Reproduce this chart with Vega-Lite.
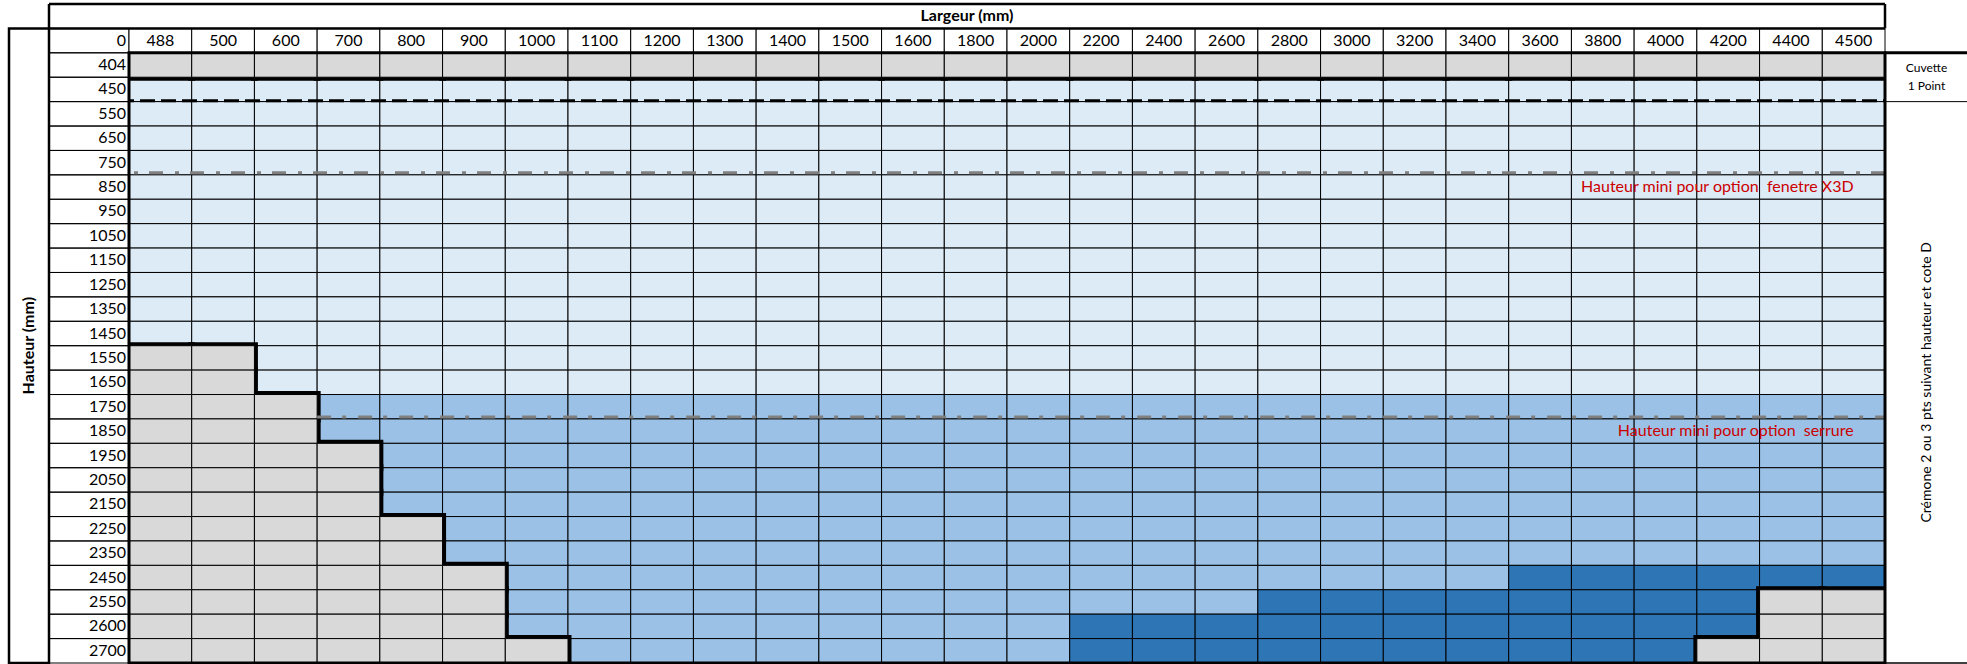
{
  "$schema": "https://vega.github.io/schema/vega-lite/v6.json",
  "padding": {"left": 7, "top": 2, "right": 0, "bottom": 0},
  "spacing": 0,
  "bounds": "flush",
  "config": {"view": {"stroke": null}, "font": "Lato"},
  "datasets": {
    "cellules": [
      {"h":404,"l":488,"z":"g"},{"h":404,"l":500,"z":"g"},{"h":404,"l":600,"z":"g"},{"h":404,"l":700,"z":"g"},{"h":404,"l":800,"z":"g"},{"h":404,"l":900,"z":"g"},{"h":404,"l":1000,"z":"g"},{"h":404,"l":1100,"z":"g"},{"h":404,"l":1200,"z":"g"},{"h":404,"l":1300,"z":"g"},{"h":404,"l":1400,"z":"g"},{"h":404,"l":1500,"z":"g"},{"h":404,"l":1600,"z":"g"},{"h":404,"l":1800,"z":"g"},{"h":404,"l":2000,"z":"g"},{"h":404,"l":2200,"z":"g"},{"h":404,"l":2400,"z":"g"},{"h":404,"l":2600,"z":"g"},{"h":404,"l":2800,"z":"g"},{"h":404,"l":3000,"z":"g"},{"h":404,"l":3200,"z":"g"},{"h":404,"l":3400,"z":"g"},{"h":404,"l":3600,"z":"g"},{"h":404,"l":3800,"z":"g"},{"h":404,"l":4000,"z":"g"},{"h":404,"l":4200,"z":"g"},{"h":404,"l":4400,"z":"g"},{"h":404,"l":4500,"z":"g"},
      {"h":450,"l":488,"z":"a"},{"h":450,"l":500,"z":"a"},{"h":450,"l":600,"z":"a"},{"h":450,"l":700,"z":"a"},{"h":450,"l":800,"z":"a"},{"h":450,"l":900,"z":"a"},{"h":450,"l":1000,"z":"a"},{"h":450,"l":1100,"z":"a"},{"h":450,"l":1200,"z":"a"},{"h":450,"l":1300,"z":"a"},{"h":450,"l":1400,"z":"a"},{"h":450,"l":1500,"z":"a"},{"h":450,"l":1600,"z":"a"},{"h":450,"l":1800,"z":"a"},{"h":450,"l":2000,"z":"a"},{"h":450,"l":2200,"z":"a"},{"h":450,"l":2400,"z":"a"},{"h":450,"l":2600,"z":"a"},{"h":450,"l":2800,"z":"a"},{"h":450,"l":3000,"z":"a"},{"h":450,"l":3200,"z":"a"},{"h":450,"l":3400,"z":"a"},{"h":450,"l":3600,"z":"a"},{"h":450,"l":3800,"z":"a"},{"h":450,"l":4000,"z":"a"},{"h":450,"l":4200,"z":"a"},{"h":450,"l":4400,"z":"a"},{"h":450,"l":4500,"z":"a"},
      {"h":550,"l":488,"z":"a"},{"h":550,"l":500,"z":"a"},{"h":550,"l":600,"z":"a"},{"h":550,"l":700,"z":"a"},{"h":550,"l":800,"z":"a"},{"h":550,"l":900,"z":"a"},{"h":550,"l":1000,"z":"a"},{"h":550,"l":1100,"z":"a"},{"h":550,"l":1200,"z":"a"},{"h":550,"l":1300,"z":"a"},{"h":550,"l":1400,"z":"a"},{"h":550,"l":1500,"z":"a"},{"h":550,"l":1600,"z":"a"},{"h":550,"l":1800,"z":"a"},{"h":550,"l":2000,"z":"a"},{"h":550,"l":2200,"z":"a"},{"h":550,"l":2400,"z":"a"},{"h":550,"l":2600,"z":"a"},{"h":550,"l":2800,"z":"a"},{"h":550,"l":3000,"z":"a"},{"h":550,"l":3200,"z":"a"},{"h":550,"l":3400,"z":"a"},{"h":550,"l":3600,"z":"a"},{"h":550,"l":3800,"z":"a"},{"h":550,"l":4000,"z":"a"},{"h":550,"l":4200,"z":"a"},{"h":550,"l":4400,"z":"a"},{"h":550,"l":4500,"z":"a"},
      {"h":650,"l":488,"z":"a"},{"h":650,"l":500,"z":"a"},{"h":650,"l":600,"z":"a"},{"h":650,"l":700,"z":"a"},{"h":650,"l":800,"z":"a"},{"h":650,"l":900,"z":"a"},{"h":650,"l":1000,"z":"a"},{"h":650,"l":1100,"z":"a"},{"h":650,"l":1200,"z":"a"},{"h":650,"l":1300,"z":"a"},{"h":650,"l":1400,"z":"a"},{"h":650,"l":1500,"z":"a"},{"h":650,"l":1600,"z":"a"},{"h":650,"l":1800,"z":"a"},{"h":650,"l":2000,"z":"a"},{"h":650,"l":2200,"z":"a"},{"h":650,"l":2400,"z":"a"},{"h":650,"l":2600,"z":"a"},{"h":650,"l":2800,"z":"a"},{"h":650,"l":3000,"z":"a"},{"h":650,"l":3200,"z":"a"},{"h":650,"l":3400,"z":"a"},{"h":650,"l":3600,"z":"a"},{"h":650,"l":3800,"z":"a"},{"h":650,"l":4000,"z":"a"},{"h":650,"l":4200,"z":"a"},{"h":650,"l":4400,"z":"a"},{"h":650,"l":4500,"z":"a"},
      {"h":750,"l":488,"z":"a"},{"h":750,"l":500,"z":"a"},{"h":750,"l":600,"z":"a"},{"h":750,"l":700,"z":"a"},{"h":750,"l":800,"z":"a"},{"h":750,"l":900,"z":"a"},{"h":750,"l":1000,"z":"a"},{"h":750,"l":1100,"z":"a"},{"h":750,"l":1200,"z":"a"},{"h":750,"l":1300,"z":"a"},{"h":750,"l":1400,"z":"a"},{"h":750,"l":1500,"z":"a"},{"h":750,"l":1600,"z":"a"},{"h":750,"l":1800,"z":"a"},{"h":750,"l":2000,"z":"a"},{"h":750,"l":2200,"z":"a"},{"h":750,"l":2400,"z":"a"},{"h":750,"l":2600,"z":"a"},{"h":750,"l":2800,"z":"a"},{"h":750,"l":3000,"z":"a"},{"h":750,"l":3200,"z":"a"},{"h":750,"l":3400,"z":"a"},{"h":750,"l":3600,"z":"a"},{"h":750,"l":3800,"z":"a"},{"h":750,"l":4000,"z":"a"},{"h":750,"l":4200,"z":"a"},{"h":750,"l":4400,"z":"a"},{"h":750,"l":4500,"z":"a"},
      {"h":850,"l":488,"z":"a"},{"h":850,"l":500,"z":"a"},{"h":850,"l":600,"z":"a"},{"h":850,"l":700,"z":"a"},{"h":850,"l":800,"z":"a"},{"h":850,"l":900,"z":"a"},{"h":850,"l":1000,"z":"a"},{"h":850,"l":1100,"z":"a"},{"h":850,"l":1200,"z":"a"},{"h":850,"l":1300,"z":"a"},{"h":850,"l":1400,"z":"a"},{"h":850,"l":1500,"z":"a"},{"h":850,"l":1600,"z":"a"},{"h":850,"l":1800,"z":"a"},{"h":850,"l":2000,"z":"a"},{"h":850,"l":2200,"z":"a"},{"h":850,"l":2400,"z":"a"},{"h":850,"l":2600,"z":"a"},{"h":850,"l":2800,"z":"a"},{"h":850,"l":3000,"z":"a"},{"h":850,"l":3200,"z":"a"},{"h":850,"l":3400,"z":"a"},{"h":850,"l":3600,"z":"a"},{"h":850,"l":3800,"z":"a"},{"h":850,"l":4000,"z":"a"},{"h":850,"l":4200,"z":"a"},{"h":850,"l":4400,"z":"a"},{"h":850,"l":4500,"z":"a"},
      {"h":950,"l":488,"z":"a"},{"h":950,"l":500,"z":"a"},{"h":950,"l":600,"z":"a"},{"h":950,"l":700,"z":"a"},{"h":950,"l":800,"z":"a"},{"h":950,"l":900,"z":"a"},{"h":950,"l":1000,"z":"a"},{"h":950,"l":1100,"z":"a"},{"h":950,"l":1200,"z":"a"},{"h":950,"l":1300,"z":"a"},{"h":950,"l":1400,"z":"a"},{"h":950,"l":1500,"z":"a"},{"h":950,"l":1600,"z":"a"},{"h":950,"l":1800,"z":"a"},{"h":950,"l":2000,"z":"a"},{"h":950,"l":2200,"z":"a"},{"h":950,"l":2400,"z":"a"},{"h":950,"l":2600,"z":"a"},{"h":950,"l":2800,"z":"a"},{"h":950,"l":3000,"z":"a"},{"h":950,"l":3200,"z":"a"},{"h":950,"l":3400,"z":"a"},{"h":950,"l":3600,"z":"a"},{"h":950,"l":3800,"z":"a"},{"h":950,"l":4000,"z":"a"},{"h":950,"l":4200,"z":"a"},{"h":950,"l":4400,"z":"a"},{"h":950,"l":4500,"z":"a"},
      {"h":1050,"l":488,"z":"a"},{"h":1050,"l":500,"z":"a"},{"h":1050,"l":600,"z":"a"},{"h":1050,"l":700,"z":"a"},{"h":1050,"l":800,"z":"a"},{"h":1050,"l":900,"z":"a"},{"h":1050,"l":1000,"z":"a"},{"h":1050,"l":1100,"z":"a"},{"h":1050,"l":1200,"z":"a"},{"h":1050,"l":1300,"z":"a"},{"h":1050,"l":1400,"z":"a"},{"h":1050,"l":1500,"z":"a"},{"h":1050,"l":1600,"z":"a"},{"h":1050,"l":1800,"z":"a"},{"h":1050,"l":2000,"z":"a"},{"h":1050,"l":2200,"z":"a"},{"h":1050,"l":2400,"z":"a"},{"h":1050,"l":2600,"z":"a"},{"h":1050,"l":2800,"z":"a"},{"h":1050,"l":3000,"z":"a"},{"h":1050,"l":3200,"z":"a"},{"h":1050,"l":3400,"z":"a"},{"h":1050,"l":3600,"z":"a"},{"h":1050,"l":3800,"z":"a"},{"h":1050,"l":4000,"z":"a"},{"h":1050,"l":4200,"z":"a"},{"h":1050,"l":4400,"z":"a"},{"h":1050,"l":4500,"z":"a"},
      {"h":1150,"l":488,"z":"a"},{"h":1150,"l":500,"z":"a"},{"h":1150,"l":600,"z":"a"},{"h":1150,"l":700,"z":"a"},{"h":1150,"l":800,"z":"a"},{"h":1150,"l":900,"z":"a"},{"h":1150,"l":1000,"z":"a"},{"h":1150,"l":1100,"z":"a"},{"h":1150,"l":1200,"z":"a"},{"h":1150,"l":1300,"z":"a"},{"h":1150,"l":1400,"z":"a"},{"h":1150,"l":1500,"z":"a"},{"h":1150,"l":1600,"z":"a"},{"h":1150,"l":1800,"z":"a"},{"h":1150,"l":2000,"z":"a"},{"h":1150,"l":2200,"z":"a"},{"h":1150,"l":2400,"z":"a"},{"h":1150,"l":2600,"z":"a"},{"h":1150,"l":2800,"z":"a"},{"h":1150,"l":3000,"z":"a"},{"h":1150,"l":3200,"z":"a"},{"h":1150,"l":3400,"z":"a"},{"h":1150,"l":3600,"z":"a"},{"h":1150,"l":3800,"z":"a"},{"h":1150,"l":4000,"z":"a"},{"h":1150,"l":4200,"z":"a"},{"h":1150,"l":4400,"z":"a"},{"h":1150,"l":4500,"z":"a"},
      {"h":1250,"l":488,"z":"a"},{"h":1250,"l":500,"z":"a"},{"h":1250,"l":600,"z":"a"},{"h":1250,"l":700,"z":"a"},{"h":1250,"l":800,"z":"a"},{"h":1250,"l":900,"z":"a"},{"h":1250,"l":1000,"z":"a"},{"h":1250,"l":1100,"z":"a"},{"h":1250,"l":1200,"z":"a"},{"h":1250,"l":1300,"z":"a"},{"h":1250,"l":1400,"z":"a"},{"h":1250,"l":1500,"z":"a"},{"h":1250,"l":1600,"z":"a"},{"h":1250,"l":1800,"z":"a"},{"h":1250,"l":2000,"z":"a"},{"h":1250,"l":2200,"z":"a"},{"h":1250,"l":2400,"z":"a"},{"h":1250,"l":2600,"z":"a"},{"h":1250,"l":2800,"z":"a"},{"h":1250,"l":3000,"z":"a"},{"h":1250,"l":3200,"z":"a"},{"h":1250,"l":3400,"z":"a"},{"h":1250,"l":3600,"z":"a"},{"h":1250,"l":3800,"z":"a"},{"h":1250,"l":4000,"z":"a"},{"h":1250,"l":4200,"z":"a"},{"h":1250,"l":4400,"z":"a"},{"h":1250,"l":4500,"z":"a"},
      {"h":1350,"l":488,"z":"a"},{"h":1350,"l":500,"z":"a"},{"h":1350,"l":600,"z":"a"},{"h":1350,"l":700,"z":"a"},{"h":1350,"l":800,"z":"a"},{"h":1350,"l":900,"z":"a"},{"h":1350,"l":1000,"z":"a"},{"h":1350,"l":1100,"z":"a"},{"h":1350,"l":1200,"z":"a"},{"h":1350,"l":1300,"z":"a"},{"h":1350,"l":1400,"z":"a"},{"h":1350,"l":1500,"z":"a"},{"h":1350,"l":1600,"z":"a"},{"h":1350,"l":1800,"z":"a"},{"h":1350,"l":2000,"z":"a"},{"h":1350,"l":2200,"z":"a"},{"h":1350,"l":2400,"z":"a"},{"h":1350,"l":2600,"z":"a"},{"h":1350,"l":2800,"z":"a"},{"h":1350,"l":3000,"z":"a"},{"h":1350,"l":3200,"z":"a"},{"h":1350,"l":3400,"z":"a"},{"h":1350,"l":3600,"z":"a"},{"h":1350,"l":3800,"z":"a"},{"h":1350,"l":4000,"z":"a"},{"h":1350,"l":4200,"z":"a"},{"h":1350,"l":4400,"z":"a"},{"h":1350,"l":4500,"z":"a"},
      {"h":1450,"l":488,"z":"a"},{"h":1450,"l":500,"z":"a"},{"h":1450,"l":600,"z":"a"},{"h":1450,"l":700,"z":"a"},{"h":1450,"l":800,"z":"a"},{"h":1450,"l":900,"z":"a"},{"h":1450,"l":1000,"z":"a"},{"h":1450,"l":1100,"z":"a"},{"h":1450,"l":1200,"z":"a"},{"h":1450,"l":1300,"z":"a"},{"h":1450,"l":1400,"z":"a"},{"h":1450,"l":1500,"z":"a"},{"h":1450,"l":1600,"z":"a"},{"h":1450,"l":1800,"z":"a"},{"h":1450,"l":2000,"z":"a"},{"h":1450,"l":2200,"z":"a"},{"h":1450,"l":2400,"z":"a"},{"h":1450,"l":2600,"z":"a"},{"h":1450,"l":2800,"z":"a"},{"h":1450,"l":3000,"z":"a"},{"h":1450,"l":3200,"z":"a"},{"h":1450,"l":3400,"z":"a"},{"h":1450,"l":3600,"z":"a"},{"h":1450,"l":3800,"z":"a"},{"h":1450,"l":4000,"z":"a"},{"h":1450,"l":4200,"z":"a"},{"h":1450,"l":4400,"z":"a"},{"h":1450,"l":4500,"z":"a"},
      {"h":1550,"l":488,"z":"g"},{"h":1550,"l":500,"z":"g"},{"h":1550,"l":600,"z":"a"},{"h":1550,"l":700,"z":"a"},{"h":1550,"l":800,"z":"a"},{"h":1550,"l":900,"z":"a"},{"h":1550,"l":1000,"z":"a"},{"h":1550,"l":1100,"z":"a"},{"h":1550,"l":1200,"z":"a"},{"h":1550,"l":1300,"z":"a"},{"h":1550,"l":1400,"z":"a"},{"h":1550,"l":1500,"z":"a"},{"h":1550,"l":1600,"z":"a"},{"h":1550,"l":1800,"z":"a"},{"h":1550,"l":2000,"z":"a"},{"h":1550,"l":2200,"z":"a"},{"h":1550,"l":2400,"z":"a"},{"h":1550,"l":2600,"z":"a"},{"h":1550,"l":2800,"z":"a"},{"h":1550,"l":3000,"z":"a"},{"h":1550,"l":3200,"z":"a"},{"h":1550,"l":3400,"z":"a"},{"h":1550,"l":3600,"z":"a"},{"h":1550,"l":3800,"z":"a"},{"h":1550,"l":4000,"z":"a"},{"h":1550,"l":4200,"z":"a"},{"h":1550,"l":4400,"z":"a"},{"h":1550,"l":4500,"z":"a"},
      {"h":1650,"l":488,"z":"g"},{"h":1650,"l":500,"z":"g"},{"h":1650,"l":600,"z":"a"},{"h":1650,"l":700,"z":"a"},{"h":1650,"l":800,"z":"a"},{"h":1650,"l":900,"z":"a"},{"h":1650,"l":1000,"z":"a"},{"h":1650,"l":1100,"z":"a"},{"h":1650,"l":1200,"z":"a"},{"h":1650,"l":1300,"z":"a"},{"h":1650,"l":1400,"z":"a"},{"h":1650,"l":1500,"z":"a"},{"h":1650,"l":1600,"z":"a"},{"h":1650,"l":1800,"z":"a"},{"h":1650,"l":2000,"z":"a"},{"h":1650,"l":2200,"z":"a"},{"h":1650,"l":2400,"z":"a"},{"h":1650,"l":2600,"z":"a"},{"h":1650,"l":2800,"z":"a"},{"h":1650,"l":3000,"z":"a"},{"h":1650,"l":3200,"z":"a"},{"h":1650,"l":3400,"z":"a"},{"h":1650,"l":3600,"z":"a"},{"h":1650,"l":3800,"z":"a"},{"h":1650,"l":4000,"z":"a"},{"h":1650,"l":4200,"z":"a"},{"h":1650,"l":4400,"z":"a"},{"h":1650,"l":4500,"z":"a"},
      {"h":1750,"l":488,"z":"g"},{"h":1750,"l":500,"z":"g"},{"h":1750,"l":600,"z":"g"},{"h":1750,"l":700,"z":"b"},{"h":1750,"l":800,"z":"b"},{"h":1750,"l":900,"z":"b"},{"h":1750,"l":1000,"z":"b"},{"h":1750,"l":1100,"z":"b"},{"h":1750,"l":1200,"z":"b"},{"h":1750,"l":1300,"z":"b"},{"h":1750,"l":1400,"z":"b"},{"h":1750,"l":1500,"z":"b"},{"h":1750,"l":1600,"z":"b"},{"h":1750,"l":1800,"z":"b"},{"h":1750,"l":2000,"z":"b"},{"h":1750,"l":2200,"z":"b"},{"h":1750,"l":2400,"z":"b"},{"h":1750,"l":2600,"z":"b"},{"h":1750,"l":2800,"z":"b"},{"h":1750,"l":3000,"z":"b"},{"h":1750,"l":3200,"z":"b"},{"h":1750,"l":3400,"z":"b"},{"h":1750,"l":3600,"z":"b"},{"h":1750,"l":3800,"z":"b"},{"h":1750,"l":4000,"z":"b"},{"h":1750,"l":4200,"z":"b"},{"h":1750,"l":4400,"z":"b"},{"h":1750,"l":4500,"z":"b"},
      {"h":1850,"l":488,"z":"g"},{"h":1850,"l":500,"z":"g"},{"h":1850,"l":600,"z":"g"},{"h":1850,"l":700,"z":"b"},{"h":1850,"l":800,"z":"b"},{"h":1850,"l":900,"z":"b"},{"h":1850,"l":1000,"z":"b"},{"h":1850,"l":1100,"z":"b"},{"h":1850,"l":1200,"z":"b"},{"h":1850,"l":1300,"z":"b"},{"h":1850,"l":1400,"z":"b"},{"h":1850,"l":1500,"z":"b"},{"h":1850,"l":1600,"z":"b"},{"h":1850,"l":1800,"z":"b"},{"h":1850,"l":2000,"z":"b"},{"h":1850,"l":2200,"z":"b"},{"h":1850,"l":2400,"z":"b"},{"h":1850,"l":2600,"z":"b"},{"h":1850,"l":2800,"z":"b"},{"h":1850,"l":3000,"z":"b"},{"h":1850,"l":3200,"z":"b"},{"h":1850,"l":3400,"z":"b"},{"h":1850,"l":3600,"z":"b"},{"h":1850,"l":3800,"z":"b"},{"h":1850,"l":4000,"z":"b"},{"h":1850,"l":4200,"z":"b"},{"h":1850,"l":4400,"z":"b"},{"h":1850,"l":4500,"z":"b"},
      {"h":1950,"l":488,"z":"g"},{"h":1950,"l":500,"z":"g"},{"h":1950,"l":600,"z":"g"},{"h":1950,"l":700,"z":"g"},{"h":1950,"l":800,"z":"b"},{"h":1950,"l":900,"z":"b"},{"h":1950,"l":1000,"z":"b"},{"h":1950,"l":1100,"z":"b"},{"h":1950,"l":1200,"z":"b"},{"h":1950,"l":1300,"z":"b"},{"h":1950,"l":1400,"z":"b"},{"h":1950,"l":1500,"z":"b"},{"h":1950,"l":1600,"z":"b"},{"h":1950,"l":1800,"z":"b"},{"h":1950,"l":2000,"z":"b"},{"h":1950,"l":2200,"z":"b"},{"h":1950,"l":2400,"z":"b"},{"h":1950,"l":2600,"z":"b"},{"h":1950,"l":2800,"z":"b"},{"h":1950,"l":3000,"z":"b"},{"h":1950,"l":3200,"z":"b"},{"h":1950,"l":3400,"z":"b"},{"h":1950,"l":3600,"z":"b"},{"h":1950,"l":3800,"z":"b"},{"h":1950,"l":4000,"z":"b"},{"h":1950,"l":4200,"z":"b"},{"h":1950,"l":4400,"z":"b"},{"h":1950,"l":4500,"z":"b"},
      {"h":2050,"l":488,"z":"g"},{"h":2050,"l":500,"z":"g"},{"h":2050,"l":600,"z":"g"},{"h":2050,"l":700,"z":"g"},{"h":2050,"l":800,"z":"b"},{"h":2050,"l":900,"z":"b"},{"h":2050,"l":1000,"z":"b"},{"h":2050,"l":1100,"z":"b"},{"h":2050,"l":1200,"z":"b"},{"h":2050,"l":1300,"z":"b"},{"h":2050,"l":1400,"z":"b"},{"h":2050,"l":1500,"z":"b"},{"h":2050,"l":1600,"z":"b"},{"h":2050,"l":1800,"z":"b"},{"h":2050,"l":2000,"z":"b"},{"h":2050,"l":2200,"z":"b"},{"h":2050,"l":2400,"z":"b"},{"h":2050,"l":2600,"z":"b"},{"h":2050,"l":2800,"z":"b"},{"h":2050,"l":3000,"z":"b"},{"h":2050,"l":3200,"z":"b"},{"h":2050,"l":3400,"z":"b"},{"h":2050,"l":3600,"z":"b"},{"h":2050,"l":3800,"z":"b"},{"h":2050,"l":4000,"z":"b"},{"h":2050,"l":4200,"z":"b"},{"h":2050,"l":4400,"z":"b"},{"h":2050,"l":4500,"z":"b"},
      {"h":2150,"l":488,"z":"g"},{"h":2150,"l":500,"z":"g"},{"h":2150,"l":600,"z":"g"},{"h":2150,"l":700,"z":"g"},{"h":2150,"l":800,"z":"b"},{"h":2150,"l":900,"z":"b"},{"h":2150,"l":1000,"z":"b"},{"h":2150,"l":1100,"z":"b"},{"h":2150,"l":1200,"z":"b"},{"h":2150,"l":1300,"z":"b"},{"h":2150,"l":1400,"z":"b"},{"h":2150,"l":1500,"z":"b"},{"h":2150,"l":1600,"z":"b"},{"h":2150,"l":1800,"z":"b"},{"h":2150,"l":2000,"z":"b"},{"h":2150,"l":2200,"z":"b"},{"h":2150,"l":2400,"z":"b"},{"h":2150,"l":2600,"z":"b"},{"h":2150,"l":2800,"z":"b"},{"h":2150,"l":3000,"z":"b"},{"h":2150,"l":3200,"z":"b"},{"h":2150,"l":3400,"z":"b"},{"h":2150,"l":3600,"z":"b"},{"h":2150,"l":3800,"z":"b"},{"h":2150,"l":4000,"z":"b"},{"h":2150,"l":4200,"z":"b"},{"h":2150,"l":4400,"z":"b"},{"h":2150,"l":4500,"z":"b"},
      {"h":2250,"l":488,"z":"g"},{"h":2250,"l":500,"z":"g"},{"h":2250,"l":600,"z":"g"},{"h":2250,"l":700,"z":"g"},{"h":2250,"l":800,"z":"g"},{"h":2250,"l":900,"z":"b"},{"h":2250,"l":1000,"z":"b"},{"h":2250,"l":1100,"z":"b"},{"h":2250,"l":1200,"z":"b"},{"h":2250,"l":1300,"z":"b"},{"h":2250,"l":1400,"z":"b"},{"h":2250,"l":1500,"z":"b"},{"h":2250,"l":1600,"z":"b"},{"h":2250,"l":1800,"z":"b"},{"h":2250,"l":2000,"z":"b"},{"h":2250,"l":2200,"z":"b"},{"h":2250,"l":2400,"z":"b"},{"h":2250,"l":2600,"z":"b"},{"h":2250,"l":2800,"z":"b"},{"h":2250,"l":3000,"z":"b"},{"h":2250,"l":3200,"z":"b"},{"h":2250,"l":3400,"z":"b"},{"h":2250,"l":3600,"z":"b"},{"h":2250,"l":3800,"z":"b"},{"h":2250,"l":4000,"z":"b"},{"h":2250,"l":4200,"z":"b"},{"h":2250,"l":4400,"z":"b"},{"h":2250,"l":4500,"z":"b"},
      {"h":2350,"l":488,"z":"g"},{"h":2350,"l":500,"z":"g"},{"h":2350,"l":600,"z":"g"},{"h":2350,"l":700,"z":"g"},{"h":2350,"l":800,"z":"g"},{"h":2350,"l":900,"z":"b"},{"h":2350,"l":1000,"z":"b"},{"h":2350,"l":1100,"z":"b"},{"h":2350,"l":1200,"z":"b"},{"h":2350,"l":1300,"z":"b"},{"h":2350,"l":1400,"z":"b"},{"h":2350,"l":1500,"z":"b"},{"h":2350,"l":1600,"z":"b"},{"h":2350,"l":1800,"z":"b"},{"h":2350,"l":2000,"z":"b"},{"h":2350,"l":2200,"z":"b"},{"h":2350,"l":2400,"z":"b"},{"h":2350,"l":2600,"z":"b"},{"h":2350,"l":2800,"z":"b"},{"h":2350,"l":3000,"z":"b"},{"h":2350,"l":3200,"z":"b"},{"h":2350,"l":3400,"z":"b"},{"h":2350,"l":3600,"z":"b"},{"h":2350,"l":3800,"z":"b"},{"h":2350,"l":4000,"z":"b"},{"h":2350,"l":4200,"z":"b"},{"h":2350,"l":4400,"z":"b"},{"h":2350,"l":4500,"z":"b"},
      {"h":2450,"l":488,"z":"g"},{"h":2450,"l":500,"z":"g"},{"h":2450,"l":600,"z":"g"},{"h":2450,"l":700,"z":"g"},{"h":2450,"l":800,"z":"g"},{"h":2450,"l":900,"z":"g"},{"h":2450,"l":1000,"z":"b"},{"h":2450,"l":1100,"z":"b"},{"h":2450,"l":1200,"z":"b"},{"h":2450,"l":1300,"z":"b"},{"h":2450,"l":1400,"z":"b"},{"h":2450,"l":1500,"z":"b"},{"h":2450,"l":1600,"z":"b"},{"h":2450,"l":1800,"z":"b"},{"h":2450,"l":2000,"z":"b"},{"h":2450,"l":2200,"z":"b"},{"h":2450,"l":2400,"z":"b"},{"h":2450,"l":2600,"z":"b"},{"h":2450,"l":2800,"z":"b"},{"h":2450,"l":3000,"z":"b"},{"h":2450,"l":3200,"z":"b"},{"h":2450,"l":3400,"z":"b"},{"h":2450,"l":3600,"z":"c"},{"h":2450,"l":3800,"z":"c"},{"h":2450,"l":4000,"z":"c"},{"h":2450,"l":4200,"z":"c"},{"h":2450,"l":4400,"z":"c"},{"h":2450,"l":4500,"z":"c"},
      {"h":2550,"l":488,"z":"g"},{"h":2550,"l":500,"z":"g"},{"h":2550,"l":600,"z":"g"},{"h":2550,"l":700,"z":"g"},{"h":2550,"l":800,"z":"g"},{"h":2550,"l":900,"z":"g"},{"h":2550,"l":1000,"z":"b"},{"h":2550,"l":1100,"z":"b"},{"h":2550,"l":1200,"z":"b"},{"h":2550,"l":1300,"z":"b"},{"h":2550,"l":1400,"z":"b"},{"h":2550,"l":1500,"z":"b"},{"h":2550,"l":1600,"z":"b"},{"h":2550,"l":1800,"z":"b"},{"h":2550,"l":2000,"z":"b"},{"h":2550,"l":2200,"z":"b"},{"h":2550,"l":2400,"z":"b"},{"h":2550,"l":2600,"z":"b"},{"h":2550,"l":2800,"z":"c"},{"h":2550,"l":3000,"z":"c"},{"h":2550,"l":3200,"z":"c"},{"h":2550,"l":3400,"z":"c"},{"h":2550,"l":3600,"z":"c"},{"h":2550,"l":3800,"z":"c"},{"h":2550,"l":4000,"z":"c"},{"h":2550,"l":4200,"z":"c"},{"h":2550,"l":4400,"z":"g"},{"h":2550,"l":4500,"z":"g"},
      {"h":2600,"l":488,"z":"g"},{"h":2600,"l":500,"z":"g"},{"h":2600,"l":600,"z":"g"},{"h":2600,"l":700,"z":"g"},{"h":2600,"l":800,"z":"g"},{"h":2600,"l":900,"z":"g"},{"h":2600,"l":1000,"z":"b"},{"h":2600,"l":1100,"z":"b"},{"h":2600,"l":1200,"z":"b"},{"h":2600,"l":1300,"z":"b"},{"h":2600,"l":1400,"z":"b"},{"h":2600,"l":1500,"z":"b"},{"h":2600,"l":1600,"z":"b"},{"h":2600,"l":1800,"z":"b"},{"h":2600,"l":2000,"z":"b"},{"h":2600,"l":2200,"z":"c"},{"h":2600,"l":2400,"z":"c"},{"h":2600,"l":2600,"z":"c"},{"h":2600,"l":2800,"z":"c"},{"h":2600,"l":3000,"z":"c"},{"h":2600,"l":3200,"z":"c"},{"h":2600,"l":3400,"z":"c"},{"h":2600,"l":3600,"z":"c"},{"h":2600,"l":3800,"z":"c"},{"h":2600,"l":4000,"z":"c"},{"h":2600,"l":4200,"z":"c"},{"h":2600,"l":4400,"z":"g"},{"h":2600,"l":4500,"z":"g"},
      {"h":2700,"l":488,"z":"g"},{"h":2700,"l":500,"z":"g"},{"h":2700,"l":600,"z":"g"},{"h":2700,"l":700,"z":"g"},{"h":2700,"l":800,"z":"g"},{"h":2700,"l":900,"z":"g"},{"h":2700,"l":1000,"z":"g"},{"h":2700,"l":1100,"z":"b"},{"h":2700,"l":1200,"z":"b"},{"h":2700,"l":1300,"z":"b"},{"h":2700,"l":1400,"z":"b"},{"h":2700,"l":1500,"z":"b"},{"h":2700,"l":1600,"z":"b"},{"h":2700,"l":1800,"z":"b"},{"h":2700,"l":2000,"z":"b"},{"h":2700,"l":2200,"z":"c"},{"h":2700,"l":2400,"z":"c"},{"h":2700,"l":2600,"z":"c"},{"h":2700,"l":2800,"z":"c"},{"h":2700,"l":3000,"z":"c"},{"h":2700,"l":3200,"z":"c"},{"h":2700,"l":3400,"z":"c"},{"h":2700,"l":3600,"z":"c"},{"h":2700,"l":3800,"z":"c"},{"h":2700,"l":4000,"z":"c"},{"h":2700,"l":4200,"z":"g"},{"h":2700,"l":4400,"z":"g"},{"h":2700,"l":4500,"z":"g"}
    ]
  },
  "hconcat": [
    {
      "width": 40,
      "height": 659,
      "data": {"values": [{"titre": "Hauteur (mm)"}]},
      "layer": [
        {
          "mark": {"type": "rect", "filled": false, "stroke": "black", "strokeWidth": 2.5},
          "encoding": {
            "y": {"datum": "entete", "type": "nominal", "bandPosition": 0, "axis": null, "scale": {"type": "band", "paddingInner": 0, "paddingOuter": 0, "domain": ["titre","entete",404,450,550,650,750,850,950,1050,1150,1250,1350,1450,1550,1650,1750,1850,1950,2050,2150,2250,2350,2450,2550,2600,2700]}},
            "y2": {"datum": 2700, "bandPosition": 1}
          }
        },
        {
          "mark": {"type": "text", "angle": 270, "fontWeight": "bold", "fontSize": 16, "align": "center", "baseline": "middle"},
          "encoding": {
            "y": {"datum": 1550, "type": "nominal", "bandPosition": 0, "axis": null, "scale": {"type": "band", "paddingInner": 0, "paddingOuter": 0, "domain": ["titre","entete",404,450,550,650,750,850,950,1050,1150,1250,1350,1450,1550,1650,1750,1850,1950,2050,2150,2250,2350,2450,2550,2600,2700]}},
            "text": {"field": "titre"}
          }
        }
      ]
    },
    {
      "width": 80,
      "height": 659,
      "layer": [
        {
          "data": {"values": [{"v": "0"}]},
          "mark": {"type": "rect", "filled": false, "stroke": "black", "strokeWidth": 1},
          "encoding": {"y": {"datum": "entete", "type": "nominal", "axis": null, "scale": {"type": "band", "paddingInner": 0, "paddingOuter": 0, "domain": ["titre","entete",404,450,550,650,750,850,950,1050,1150,1250,1350,1450,1550,1650,1750,1850,1950,2050,2150,2250,2350,2450,2550,2600,2700]}}}
        },
        {
          "data": {"values": [{"v": "0"}]},
          "mark": {"type": "text", "align": "right", "baseline": "middle", "dx": 37, "fontSize": 16},
          "encoding": {
            "y": {"datum": "entete", "type": "nominal", "axis": null, "scale": {"type": "band", "paddingInner": 0, "paddingOuter": 0, "domain": ["titre","entete",404,450,550,650,750,850,950,1050,1150,1250,1350,1450,1550,1650,1750,1850,1950,2050,2150,2250,2350,2450,2550,2600,2700]}},
            "text": {"field": "v"}
          }
        },
        {
          "data": {"name": "cellules"},
          "transform": [{"filter": "datum.l == 488"}],
          "mark": {"type": "rect", "filled": false, "stroke": "black", "strokeWidth": 1},
          "encoding": {"y": {"field": "h", "type": "nominal", "axis": null, "scale": {"type": "band", "paddingInner": 0, "paddingOuter": 0, "domain": ["titre","entete",404,450,550,650,750,850,950,1050,1150,1250,1350,1450,1550,1650,1750,1850,1950,2050,2150,2250,2350,2450,2550,2600,2700]}}}
        },
        {
          "data": {"name": "cellules"},
          "transform": [{"filter": "datum.l == 488"}],
          "mark": {"type": "text", "align": "right", "baseline": "middle", "dx": 37, "fontSize": 16},
          "encoding": {
            "y": {"field": "h", "type": "nominal", "axis": null, "scale": {"type": "band", "paddingInner": 0, "paddingOuter": 0, "domain": ["titre","entete",404,450,550,650,750,850,950,1050,1150,1250,1350,1450,1550,1650,1750,1850,1950,2050,2150,2250,2350,2450,2550,2600,2700]}},
            "text": {"field": "h", "type": "nominal"}
          }
        },
        {
          "data": {"values": [{}]},
          "mark": {"type": "rule", "stroke": "black", "strokeWidth": 2.5},
          "encoding": {"y": {"datum": "titre", "type": "nominal", "bandPosition": 0, "axis": null, "scale": {"type": "band", "paddingInner": 0, "paddingOuter": 0, "domain": ["titre","entete",404,450,550,650,750,850,950,1050,1150,1250,1350,1450,1550,1650,1750,1850,1950,2050,2150,2250,2350,2450,2550,2600,2700]}}}
        },
        {
          "data": {"values": [{}]},
          "mark": {"type": "rule", "stroke": "black", "strokeWidth": 2.5},
          "encoding": {"y": {"datum": "entete", "type": "nominal", "bandPosition": 0, "axis": null, "scale": {"type": "band", "paddingInner": 0, "paddingOuter": 0, "domain": ["titre","entete",404,450,550,650,750,850,950,1050,1150,1250,1350,1450,1550,1650,1750,1850,1950,2050,2150,2250,2350,2450,2550,2600,2700]}}}
        },
        {
          "data": {"values": [{}]},
          "mark": {"type": "rule", "stroke": "black", "strokeWidth": 2.5},
          "encoding": {
            "x": {"datum": "lib", "type": "nominal", "bandPosition": 0, "axis": null, "scale": {"type": "band", "paddingInner": 0, "paddingOuter": 0, "domain": ["lib"]}},
            "y": {"datum": "titre", "type": "nominal", "bandPosition": 0, "axis": null, "scale": {"type": "band", "paddingInner": 0, "paddingOuter": 0, "domain": ["titre","entete",404,450,550,650,750,850,950,1050,1150,1250,1350,1450,1550,1650,1750,1850,1950,2050,2150,2250,2350,2450,2550,2600,2700]}},
            "y2": {"datum": "entete", "bandPosition": 0}
          }
        }
      ]
    },
    {
      "width": 1756,
      "height": 659,
      "layer": [
        {
          "data": {"name": "cellules"},
          "mark": {"type": "rect", "stroke": "black", "strokeWidth": 1},
          "encoding": {
            "x": {"field": "l", "type": "nominal", "axis": null, "scale": {"type": "band", "paddingInner": 0, "paddingOuter": 0, "domain": [488,500,600,700,800,900,1000,1100,1200,1300,1400,1500,1600,1800,2000,2200,2400,2600,2800,3000,3200,3400,3600,3800,4000,4200,4400,4500]}},
            "y": {"field": "h", "type": "nominal", "axis": null, "scale": {"type": "band", "paddingInner": 0, "paddingOuter": 0, "domain": ["titre","entete",404,450,550,650,750,850,950,1050,1150,1250,1350,1450,1550,1650,1750,1850,1950,2050,2150,2250,2350,2450,2550,2600,2700]}},
            "color": {"field": "z", "type": "nominal", "legend": null, "scale": {"domain": ["g", "a", "b", "c"], "range": ["#D9D9D9", "#DDEBF7", "#9BC2E6", "#2E75B6"]}}
          }
        },
        {
          "data": {"name": "cellules"},
          "transform": [{"filter": "datum.z == 'g'"}],
          "mark": {"type": "rect", "filled": false, "stroke": "black", "strokeWidth": 7, "clip": true},
          "encoding": {
            "x": {"field": "l", "type": "nominal"},
            "y": {"field": "h", "type": "nominal"}
          }
        },
        {
          "data": {"name": "cellules"},
          "transform": [{"filter": "datum.z == 'g'"}],
          "mark": {"type": "rect", "fill": "#D9D9D9", "stroke": "black", "strokeWidth": 1},
          "encoding": {
            "x": {"field": "l", "type": "nominal"},
            "y": {"field": "h", "type": "nominal"}
          }
        },
        {
          "data": {"name": "cellules"},
          "transform": [{"filter": "datum.h == 404"}],
          "mark": {"type": "rect", "fill": "white", "stroke": "black", "strokeWidth": 1},
          "encoding": {
            "x": {"field": "l", "type": "nominal"},
            "y": {"datum": "entete", "type": "nominal"}
          }
        },
        {
          "data": {"name": "cellules"},
          "transform": [{"filter": "datum.h == 404"}],
          "mark": {"type": "text", "baseline": "middle", "fontSize": 16},
          "encoding": {
            "x": {"field": "l", "type": "nominal"},
            "y": {"datum": "entete", "type": "nominal"},
            "text": {"field": "l", "type": "nominal"}
          }
        },
        {
          "data": {"values": [{}]},
          "mark": {"type": "rule", "stroke": "black", "strokeWidth": 2.5},
          "encoding": {"y": {"datum": "titre", "type": "nominal", "bandPosition": 0}}
        },
        {
          "data": {"values": [{}]},
          "mark": {"type": "rule", "stroke": "black", "strokeWidth": 2.5},
          "encoding": {"y": {"datum": "entete", "type": "nominal", "bandPosition": 0}}
        },
        {
          "data": {"values": [{}]},
          "mark": {"type": "rule", "stroke": "black", "strokeWidth": 2.5},
          "encoding": {
            "x": {"datum": 4500, "type": "nominal", "bandPosition": 1},
            "y": {"datum": "titre", "type": "nominal", "bandPosition": 0},
            "y2": {"datum": "entete", "bandPosition": 0}
          }
        },
        {
          "data": {"values": [{"titre": "Largeur (mm)"}]},
          "mark": {"type": "text", "fontWeight": "bold", "fontSize": 16, "align": "center", "baseline": "middle", "dx": -40},
          "encoding": {
            "y": {"datum": "titre", "type": "nominal"},
            "text": {"field": "titre"}
          }
        },
        {
          "data": {"values": [{}]},
          "mark": {"type": "rule", "stroke": "black", "strokeWidth": 3, "strokeDash": [15, 6], "strokeDashOffset": -8, "yOffset": -1},
          "encoding": {"y": {"datum": 550, "type": "nominal", "bandPosition": 0}}
        },
        {
          "data": {"values": [{}]},
          "mark": {"type": "rule", "stroke": "#808080", "strokeWidth": 3, "strokeDash": [14, 11, 4, 12], "yOffset": -2},
          "encoding": {"y": {"datum": 850, "type": "nominal", "bandPosition": 0}}
        },
        {
          "data": {"values": [{}]},
          "mark": {"type": "rule", "stroke": "#808080", "strokeWidth": 3, "strokeDash": [14, 11, 4, 12], "yOffset": -2},
          "encoding": {
            "y": {"datum": 1850, "type": "nominal", "bandPosition": 0},
            "x": {"datum": 700, "type": "nominal", "bandPosition": 0},
            "x2": {"datum": 4500, "bandPosition": 1}
          }
        },
        {
          "data": {"values": [
            {"h": 850, "note": "Hauteur mini pour option\u00a0 fenetre X3D"},
            {"h": 1850, "note": "Hauteur mini pour option\u00a0 serrure"}
          ]},
          "mark": {"type": "text", "align": "right", "baseline": "middle", "fontSize": 16, "color": "#CC0000"},
          "encoding": {
            "x": {"datum": 4500, "type": "nominal"},
            "y": {"field": "h", "type": "nominal"},
            "text": {"field": "note"}
          }
        },
        {
          "data": {"values": [{}]},
          "mark": {"type": "rect", "filled": false, "stroke": "black", "strokeWidth": 3},
          "encoding": {
            "y": {"datum": 404, "type": "nominal", "bandPosition": 0},
            "y2": {"datum": 2700, "bandPosition": 1}
          }
        }
      ]
    },
    {
      "width": 83,
      "height": 659,
      "data": {"values": [{}]},
      "layer": [
        {
          "mark": {"type": "rule", "stroke": "black", "strokeWidth": 3},
          "encoding": {"y": {"datum": 404, "type": "nominal", "bandPosition": 0, "axis": null, "scale": {"type": "band", "paddingInner": 0, "paddingOuter": 0, "domain": ["titre","entete",404,450,550,650,750,850,950,1050,1150,1250,1350,1450,1550,1650,1750,1850,1950,2050,2150,2250,2350,2450,2550,2600,2700]}}}
        },
        {
          "mark": {"type": "rule", "stroke": "black", "strokeWidth": 1},
          "encoding": {"y": {"datum": 550, "type": "nominal", "bandPosition": 0}}
        },
        {
          "mark": {"type": "rule", "stroke": "black", "strokeWidth": 1.5},
          "encoding": {"y": {"datum": 2700, "type": "nominal", "bandPosition": 1}}
        },
        {
          "mark": {"type": "text", "fontSize": 12, "baseline": "middle", "align": "center", "dy": -9},
          "encoding": {
            "y": {"datum": 450, "type": "nominal", "bandPosition": 0},
            "text": {"value": "Cuvette"}
          }
        },
        {
          "mark": {"type": "text", "fontSize": 12, "baseline": "middle", "align": "center", "dy": 9},
          "encoding": {
            "y": {"datum": 450, "type": "nominal", "bandPosition": 0},
            "text": {"value": "1 Point"}
          }
        },
        {
          "mark": {"type": "text", "fontSize": 14, "angle": 270, "baseline": "middle", "align": "center"},
          "encoding": {
            "y": {"datum": 1650, "type": "nominal"},
            "text": {"value": "Crémone 2 ou 3 pts suivant hauteur et cote D"}
          }
        }
      ]
    }
  ]
}
